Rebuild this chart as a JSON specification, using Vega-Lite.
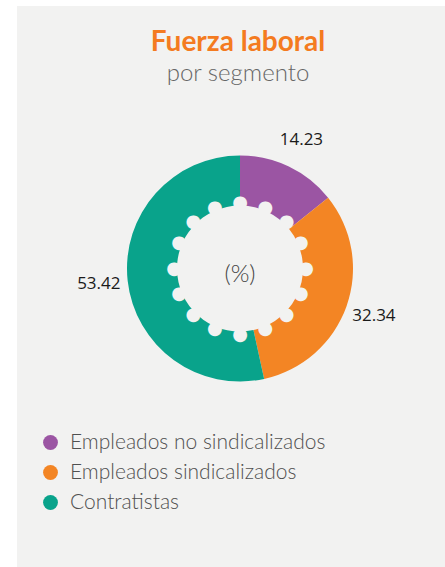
{
  "$schema": "https://vega.github.io/schema/vega-lite/v6.json",
  "width": 428,
  "height": 561,
  "autosize": {"type": "none"},
  "padding": {"left": 17, "top": 6, "right": 0, "bottom": 0},
  "background": "#ffffff",
  "config": {"view": {"fill": "#f2f2f1", "stroke": null}, "font": "Lato"},
  "title": {
    "text": "Fuerza laboral",
    "subtitle": "por segmento",
    "anchor": "middle",
    "dx": 7,
    "offset": -80,
    "fontSize": 28,
    "fontWeight": "bold",
    "color": "#f47b20",
    "font": "Lato",
    "subtitleFont": "Lato",
    "subtitleFontSize": 24,
    "subtitleFontWeight": 300,
    "subtitleColor": "#666666",
    "subtitlePadding": 5
  },
  "data": {
    "values": [
      {"segmento": "Empleados no sindicalizados", "value": 14.23, "order": 1},
      {"segmento": "Empleados sindicalizados", "value": 32.34, "order": 2},
      {"segmento": "Contratistas", "value": 53.42, "order": 3}
    ]
  },
  "layer": [
    {
      "mark": {"type": "arc", "innerRadius": 63, "outerRadius": 113, "strokeWidth": 0},
      "encoding": {
        "theta": {"field": "value", "type": "quantitative", "stack": true},
        "order": {"field": "order", "type": "quantitative"},
        "color": {
          "field": "segmento",
          "type": "nominal",
          "scale": {
            "domain": ["Empleados no sindicalizados", "Empleados sindicalizados", "Contratistas"],
            "range": ["#9b55a3", "#f38524", "#09a38b"]
          },
          "legend": {
            "title": null,
            "orient": "none",
            "legendX": 23,
            "legendY": 426,
            "symbolType": "circle",
            "symbolSize": 220,
            "symbolStrokeWidth": 0,
            "labelFontSize": 21,
            "labelFontWeight": 300,
            "labelLimit": 400,
            "labelColor": "#505050",
            "labelFont": "Lato",
            "rowPadding": 8,
            "labelOffset": 9
          }
        },
        "x": {"value": 223},
        "y": {"value": 262.5}
      }
    },
    {
      "mark": {"type": "text", "font": "Open Sans", "fontSize": 17, "color": "#1a1a1a", "align": "center", "baseline": "middle"},
      "encoding": {
        "theta": {"field": "value", "type": "quantitative", "stack": true},
        "order": {"field": "order", "type": "quantitative"},
        "text": {"field": "value", "type": "quantitative", "format": ".2f"},
        "radius": {"value": 142},
        "x": {"value": 223},
        "y": {"value": 262.5}
      }
    },
    {
      "data": {
        "values": [
          {"k": 0}, {"k": 1}, {"k": 2}, {"k": 3}, {"k": 4}, {"k": 5}, {"k": 6}, {"k": 7},
          {"k": 8}, {"k": 9}, {"k": 10}, {"k": 11}, {"k": 12}, {"k": 13}, {"k": 14}, {"k": 15}
        ]
      },
      "mark": {"type": "text", "text": "●", "font": "DejaVu Sans", "fontSize": 18, "align": "center", "baseline": "middle", "color": "#f2f2f1"},
      "encoding": {
        "theta": {"field": "k", "type": "quantitative", "stack": false, "scale": {"domain": [0, 16], "range": [0, 6.283185]}},
        "radius": {"value": 66},
        "x": {"value": 223},
        "y": {"value": 262.5}
      }
    },
    {
      "data": {"values": [{"t": "(%)"}]},
      "mark": {"type": "text", "font": "Lato", "fontSize": 24, "fontWeight": 300, "color": "#444444", "align": "center", "baseline": "middle"},
      "encoding": {
        "text": {"field": "t", "type": "nominal"},
        "x": {"value": 223},
        "y": {"value": 269}
      }
    }
  ],
  "resolve": {"scale": {"theta": "independent"}}
}
